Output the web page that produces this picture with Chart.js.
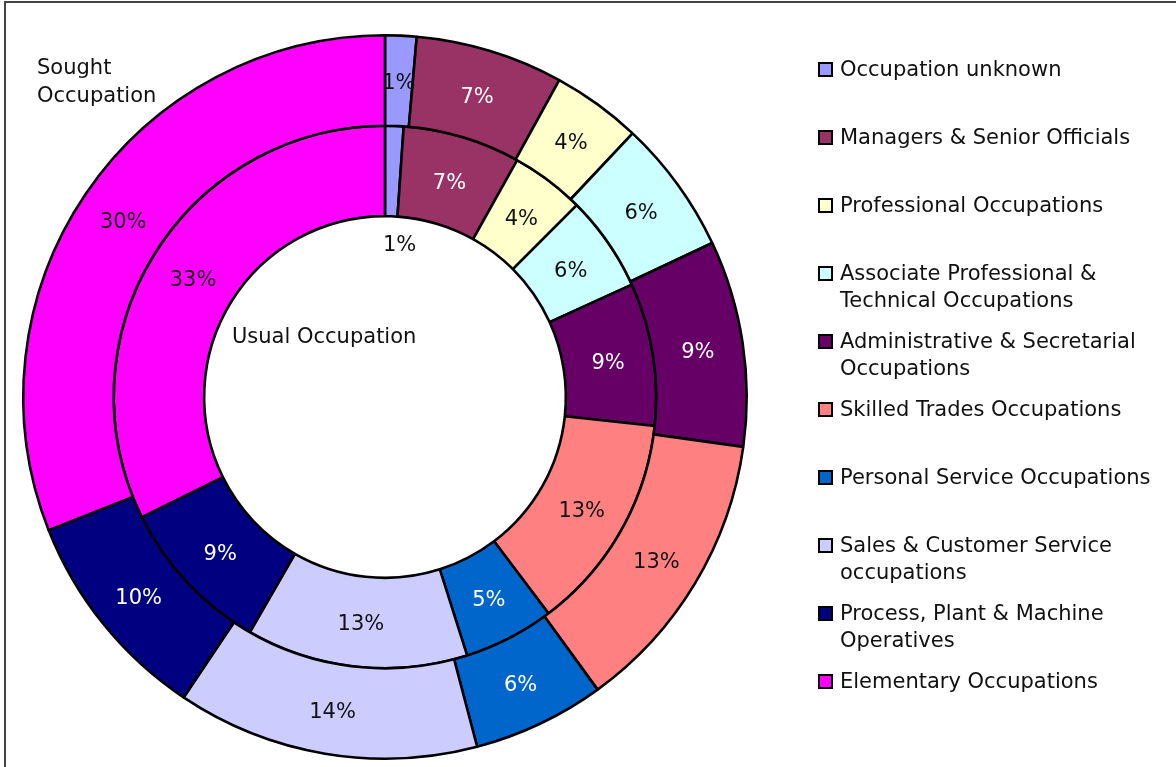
<!DOCTYPE html>
<html>
<head>
<meta charset="utf-8">
<script src="https://cdn.jsdelivr.net/npm/chart.js@4.4.1/dist/chart.umd.min.js"></script>
<style>
  html, body { margin: 0; padding: 0; background: #fff; overflow: hidden; }
  #wrap { position: relative; width: 1176px; height: 767px; overflow: hidden; font-family: "DejaVu Sans", Verdana, sans-serif; color: #111; }
  #frame { position: absolute; left: 4px; top: 1px; width: 1400px; height: 1000px; border: 2px solid #444; box-sizing: border-box; }
  canvas { position: absolute; left: 0; top: 0; }
  .txt { position: absolute; font-size: 21px; line-height: 28px; white-space: nowrap; }
  #legend { position: absolute; left: 0; top: 0; }
  .li { position: absolute; left: 818px; font-size: 21px; line-height: 27px; white-space: nowrap; padding-left: 22px; }
  .sw { position: absolute; left: 0px; top: 6px; width: 11px; height: 11px; border: 2px solid #000; }
</style>
</head>
<body>
<div id="wrap">
  <div id="frame"></div>
  <canvas id="c" width="1176" height="767"></canvas>
  <div class="txt" style="left:37px; top:53px;">Sought<br>Occupation</div>
  <div class="txt" style="left:232px; top:322px;">Usual Occupation</div>
  <div id="legend"></div>
</div>
<script>
const categories = [
  "Occupation unknown",
  "Managers & Senior Officials",
  "Professional Occupations",
  "Associate Professional & Technical Occupations",
  "Administrative & Secretarial Occupations",
  "Skilled Trades Occupations",
  "Personal Service Occupations",
  "Sales & Customer Service occupations",
  "Process, Plant & Machine Operatives",
  "Elementary Occupations"
];
const legendLines = [
  ["Occupation unknown"],
  ["Managers & Senior Officials"],
  ["Professional Occupations"],
  ["Associate Professional &", "Technical Occupations"],
  ["Administrative & Secretarial", "Occupations"],
  ["Skilled Trades Occupations"],
  ["Personal Service Occupations"],
  ["Sales & Customer Service", "occupations"],
  ["Process, Plant & Machine", "Operatives"],
  ["Elementary Occupations"]
];
const soughtValues = [1.4, 6.6, 4.0, 6.0, 9.2, 12.8, 5.9, 13.5, 9.6, 31.0];
const usualValues  = [1.1, 7.0, 4.4, 5.7, 8.5, 13.0, 5.4, 13.2, 9.4, 32.3];
const soughtLabels = ["1%", "7%", "4%", "6%", "9%", "13%", "6%", "14%", "10%", "30%"];
const usualLabels  = ["1%", "7%", "4%", "6%", "9%", "13%", "5%", "13%", "9%", "33%"];
const colors = ["#9999FF", "#993366", "#FFFFCC", "#CCFFFF", "#660066", "#FF8080", "#0066CC", "#CCCCFF", "#000080", "#FF00FF"];
const darkFill = [false, true, false, false, true, false, true, false, true, false];

// legend
const leg = document.getElementById('legend');
categories.forEach((cat, i) => {
  const d = document.createElement('div');
  d.className = 'li';
  d.style.top = (69 + 68 * i - 13.5) + 'px';
  const sw = document.createElement('span');
  sw.className = 'sw';
  sw.style.background = colors[i];
  d.appendChild(sw);
  d.appendChild(document.createTextNode(legendLines[i][0]));
  for (let k = 1; k < legendLines[i].length; k++) {
    d.appendChild(document.createElement('br'));
    d.appendChild(document.createTextNode(legendLines[i][k]));
  }
  d.title = cat;
  leg.appendChild(d);
});

const labelPlugin = {
  id: 'sliceLabels',
  afterDatasetsDraw(chart) {
    const ctx = chart.ctx;
    ctx.save();
    ctx.font = '21px "DejaVu Sans", Verdana, sans-serif';
    ctx.textAlign = 'center';
    ctx.textBaseline = 'middle';
    chart.data.datasets.forEach((ds, di) => {
      const meta = chart.getDatasetMeta(di);
      meta.data.forEach((arc, i) => {
        const p = arc.getProps(['startAngle', 'endAngle', 'innerRadius', 'outerRadius', 'x', 'y'], true);
        let a = (p.startAngle + p.endAngle) / 2;
        let r = (p.innerRadius + p.outerRadius) / 2;
        let color = ds.labelDark[i] ? '#ffffff' : '#111111';
        if (di === 1 && ds.data[i] < 2) {
          r = p.innerRadius - 26;
          a += 0.06;
          color = '#111111';
        }
        const x = p.x + Math.cos(a) * r;
        const y = p.y + Math.sin(a) * r + 3;
        ctx.fillStyle = color;
        ctx.fillText(ds.pctLabels[i], x, y);
      });
    });
    ctx.restore();
  }
};

new Chart(document.getElementById('c'), {
  type: 'doughnut',
  data: {
    labels: categories,
    datasets: [
      { label: 'Sought Occupation', data: soughtValues, pctLabels: soughtLabels, labelDark: darkFill,
        backgroundColor: colors, borderColor: '#000', borderWidth: 2.6 },
      { label: 'Usual Occupation', data: usualValues, pctLabels: usualLabels, labelDark: darkFill,
        backgroundColor: colors, borderColor: '#000', borderWidth: 2.6 }
    ]
  },
  options: {
    responsive: false,
    animation: false,
    events: [],
    cutout: '50%',
    layout: { padding: { left: 22, right: 428, top: 34, bottom: 7 } },
    plugins: { legend: { display: false }, tooltip: { enabled: false } }
  },
  plugins: [labelPlugin]
});
</script>
</body>
</html>
